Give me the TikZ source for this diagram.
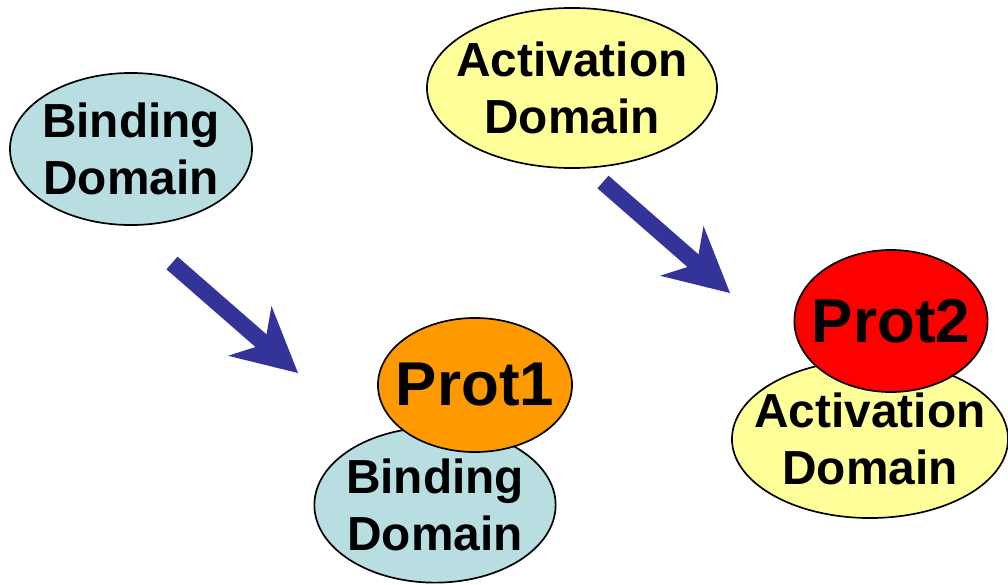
\documentclass[tikz,border=0pt]{standalone}
\usepackage{fontspec}
\setmainfont{Liberation Sans}
\usetikzlibrary{shapes.geometric,arrows.meta}

\definecolor{bindblue}{RGB}{185,222,226}
\definecolor{actyellow}{RGB}{255,255,153}
\definecolor{protorange}{RGB}{255,153,0}
\definecolor{protred}{RGB}{255,0,0}
\definecolor{arrowblue}{RGB}{51,51,153}

\begin{document}
\begin{tikzpicture}[x=0.025cm,y=-0.025cm,
	dombubble/.style={shape=ellipse,draw=black,line width=1.2pt,inner sep=-1.5cm,align=center,
		font=\fontsize{34}{40}\selectfont\bfseries},
	protbubble/.style={shape=ellipse,draw=black,line width=1.2pt,inner sep=-1.5cm,
		font=\fontsize{44}{50}\selectfont\bfseries},
	push/.style={draw=arrowblue,line width=0.42cm,
		-{Stealth[length=1.6cm,width=1.65cm,inset=0.5cm,line width=0pt]}}]

	\useasboundingbox (0,0) rectangle (1008,585);

	\node[dombubble,fill=bindblue,minimum width=6.05cm,minimum height=3.8cm]  (bind)  at (131,149) {Binding\\Domain};
	\node[dombubble,fill=actyellow,minimum width=7.25cm,minimum height=4cm]   (act)   at (572,88)  {Activation\\Domain};

	\node[dombubble,fill=bindblue,minimum width=6.03cm,minimum height=3.88cm] (bind1) at (435,505) {Binding\\Domain};
	\node[protbubble,fill=protorange,minimum width=4.85cm,minimum height=3.35cm] (prot1) at (475,385) {Prot1};

	\node[dombubble,fill=actyellow,minimum width=6.9cm,minimum height=3.95cm] (act2)  at (870,439) {Activation\\Domain};
	\node[protbubble,fill=protred,minimum width=4.83cm,minimum height=3.55cm]    (prot2) at (891,321) {Prot2};

	\coordinate (from1) at (172,263);
	\coordinate (to1)   at (298,373);
	\coordinate (from2) at (603,182);
	\coordinate (to2)   at (730,293);

	\draw[push] (from1) -- (to1);
	\draw[push] (from2) -- (to2);

\end{tikzpicture}
\end{document}
